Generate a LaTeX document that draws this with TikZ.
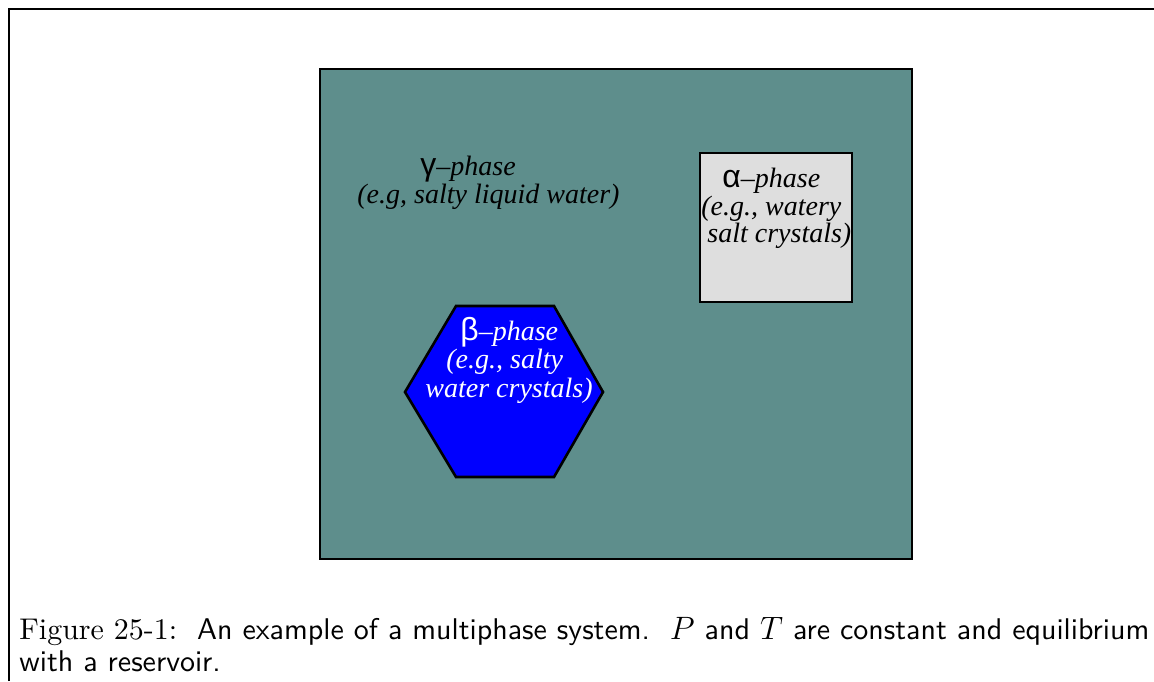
\documentclass[tikz,border=0pt]{standalone}
\usepackage{fontspec}
\usepackage{graphicx}
\newfontfamily\tms{Liberation Serif}
\newfontfamily\grk{Liberation Sans}
\newfontfamily\lmrten[Extension=.otf]{lmroman10-regular}
\newfontfamily\lmsten[Extension=.otf]{lmsans10-regular}
\definecolor{tealbg}{RGB}{94,142,140}
\definecolor{alphagray}{RGB}{222,222,222}
\newcommand{\gk}[1]{{\grk\fontsize{16pt}{16pt}\selectfont #1}}
\newcommand{\capfont}{\lmsten\fontsize{16pt}{16pt}\selectfont}
\newsavebox\capboxa
\newsavebox\capboxb
\sbox\capboxa{\capfont{\lmrten\fontsize{16pt}{16pt}\selectfont Figure 25-1:}\ \ An example of a multiphase system.\ \ $P$ and $T$ are constant and equilibrium}
\sbox\capboxb{\capfont with a reservoir.}
\edef\capscale{\fpeval{565pt/\the\wd\capboxa}}
\begin{document}
\begin{tikzpicture}[x=0.5pt,y=-0.5pt,
  lbl/.style={anchor=base west,inner sep=0pt,font=\tms\fontsize{14pt}{16pt}\selectfont},
  captxt/.style={anchor=base west,inner sep=0pt}]
\useasboundingbox (0,0) rectangle (1154,681);
% outer frame (top and left only)
\draw[line width=1.4pt] (9,681) -- (9,9) -- (1154,9);
% gamma phase region
\draw[fill=tealbg,line width=1.3pt] (320,69) rectangle (912,559);
% alpha phase
\draw[fill=alphagray,line width=1.3pt] (700,153) rectangle (852,302);
% beta phase hexagon
\draw[fill=blue,line width=1.3pt,line join=miter] (405,392) -- (456,306) -- (554,306) -- (603,392) -- (554,477) -- (456,477) -- cycle;
% labels
\node[lbl] (g1) at (420,175) {\gk{γ}–\textit{phase}};
\node[lbl] (g2) at (357,203) {\textit{(e.g, salty liquid water)}};
\node[lbl] (a1) at (722,187) {\gk{α}–\textit{phase}};
\node[lbl] (a2) at (701,215) {\textit{(e.g., watery}};
\node[lbl] (a3) at (707,242) {\textit{salt crystals)}};
\node[lbl,text=white] (b1) at (460,340) {\gk{β}–\textit{phase}};
\node[lbl,text=white] (b2) at (446,368) {\textit{(e.g., salty}};
\node[lbl,text=white] (b3) at (425,397) {\textit{water crystals)}};
% caption
\node[captxt] (c1) at (19,639) {\scalebox{\capscale}{\usebox\capboxa}};
\node[captxt] (c2) at (19,671) {\scalebox{\capscale}{\usebox\capboxb}};
\end{tikzpicture}
\end{document}
